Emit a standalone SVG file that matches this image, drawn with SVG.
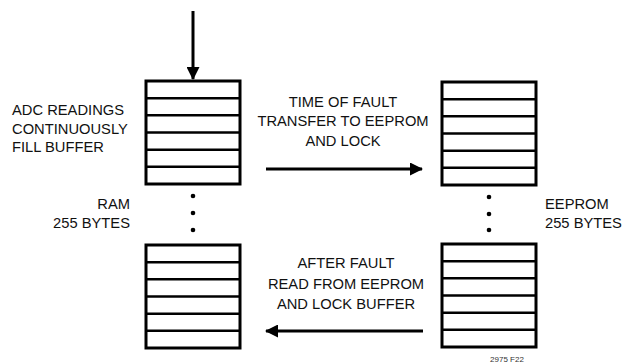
<svg xmlns="http://www.w3.org/2000/svg" width="625" height="363" viewBox="0 0 625 363">
<style>
.t{font-family:"Liberation Sans",Arial,sans-serif;font-size:15.5px;fill:#111}
.c{text-anchor:middle}
.r{text-anchor:end}
.box{fill:#fff;stroke:#000;stroke-width:3}
.row{stroke:#000;stroke-width:2.5}
.conn{stroke:#000;stroke-width:3;fill:none}
</style>
<defs>
<marker id="ah" markerWidth="13" markerHeight="13" refX="12" refY="6.5" orient="auto" markerUnits="userSpaceOnUse">
<path d="M0,0 L13,6.5 L0,13 Z" fill="#000"/>
</marker>
<g id="buf">
<rect class="box" x="0" y="0" width="94" height="103"/>
<line class="row" x1="0" y1="17.2" x2="94" y2="17.2"/>
<line class="row" x1="0" y1="34.3" x2="94" y2="34.3"/>
<line class="row" x1="0" y1="51.5" x2="94" y2="51.5"/>
<line class="row" x1="0" y1="68.7" x2="94" y2="68.7"/>
<line class="row" x1="0" y1="85.8" x2="94" y2="85.8"/>
</g>
</defs>
<rect width="625" height="363" fill="#fff"/>
<g id="ram-top"><use href="#buf" x="146" y="81"/></g>
<g id="ram-bottom"><use href="#buf" x="146" y="245"/></g>
<g id="eeprom-top"><use href="#buf" x="442" y="82"/></g>
<g id="eeprom-bottom"><use href="#buf" x="442" y="244"/></g>
<g id="ram-dots" fill="#000">
<circle cx="193" cy="196" r="2.3"/><circle cx="193" cy="213" r="2.3"/><circle cx="193" cy="230" r="2.3"/>
</g>
<g id="eeprom-dots" fill="#000">
<circle cx="489" cy="197" r="2.3"/><circle cx="489" cy="214" r="2.3"/><circle cx="489" cy="230" r="2.3"/>
</g>
<g id="connectors">
<line class="conn" x1="193" y1="11" x2="193" y2="79" marker-end="url(#ah)"/>
<line class="conn" x1="266" y1="169" x2="422" y2="169" marker-end="url(#ah)"/>
<line class="conn" x1="423" y1="331" x2="266" y2="331" marker-end="url(#ah)"/>
</g>
<g id="labels">
<text class="t" transform="translate(12,114.5) scale(0.95,1)">ADC READINGS</text>
<text class="t" transform="translate(12,133.5) scale(0.95,1)">CONTINUOUSLY</text>
<text class="t" transform="translate(12,152) scale(0.95,1)">FILL BUFFER</text>
<text class="t r" transform="translate(130,209) scale(0.95,1)">RAM</text>
<text class="t r" transform="translate(130,228) scale(0.95,1)">255 BYTES</text>
<text class="t" transform="translate(545,209) scale(0.95,1)">EEPROM</text>
<text class="t" transform="translate(545,228) scale(0.95,1)">255 BYTES</text>
<text class="t c" transform="translate(343,107) scale(0.95,1)">TIME OF FAULT</text>
<text class="t c" transform="translate(343,126) scale(0.95,1)">TRANSFER TO EEPROM</text>
<text class="t c" transform="translate(343,146) scale(0.95,1)">AND LOCK</text>
<text class="t c" transform="translate(346,268) scale(0.95,1)">AFTER FAULT</text>
<text class="t c" transform="translate(346,289) scale(0.95,1)">READ FROM EEPROM</text>
<text class="t c" transform="translate(346,309) scale(0.95,1)">AND LOCK BUFFER</text>
<text x="507" y="362" text-anchor="middle" font-family="'Liberation Sans',Arial,sans-serif" font-size="8" fill="#333">2975 F22</text>
</g>
</svg>
